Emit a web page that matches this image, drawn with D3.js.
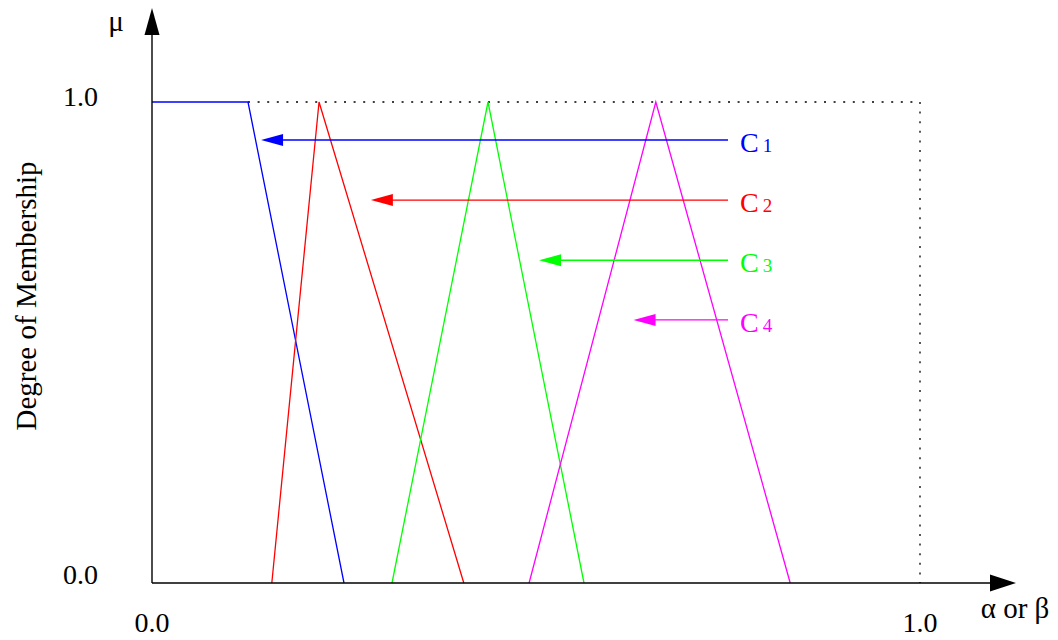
<!DOCTYPE html>
<html>
<head>
<meta charset="utf-8">
<script src="https://cdn.jsdelivr.net/npm/d3@7"></script>
<style>
  html, body { margin: 0; padding: 0; background: #fff; }
  svg { display: block; font-family: "Liberation Serif", "Times New Roman", serif; }
</style>
</head>
<body>
<svg id="chart" width="1058" height="640"></svg>
<script>
// Membership functions of the four fuzzy classes (x in [0,1], mu in [0,1])
const c1Points = [[0, 1], [0.125, 1], [0.25, 0]];
const c2Points = [[0.156, 0], [0.2175, 1], [0.406, 0]];
const c3Points = [[0.3125, 0], [0.4375, 1], [0.5625, 0]];
const c4Points = [[0.491, 0], [0.656, 1], [0.831, 0]];

const classNames = ["C", "C", "C", "C"];
const classIndex = ["1", "2", "3", "4"];
const classColors = ["#0000ff", "#ff0000", "#00ff00", "#ff00ff"];

// Label arrows: level (mu) and the x where each arrow points
const arrowLevels = [0.921, 0.796, 0.671, 0.547];
const arrowTargets = [0.142, 0.285, 0.504, 0.627];
const arrowStart = 0.75;

const xTickLabels = ["0.0", "1.0"];
const yTickLabels = ["0.0", "1.0"];

const svg = d3.select("#chart");
const x = d3.scaleLinear().domain([0, 1]).range([152, 920]);
const y = d3.scaleLinear().domain([0, 1]).range([583, 102]);

// Dotted frame at mu = 1 and x = 1
svg.append("path")
  .attr("d", d3.line()([[x(0.125), y(1)], [x(1), y(1)], [x(1), y(0)]]))
  .attr("fill", "none").attr("stroke", "#000").attr("stroke-width", 1.3)
  .attr("stroke-dasharray", "2,7.6");

// Membership curves
const line = d3.line().x(d => x(d[0])).y(d => y(d[1]));
[c1Points, c2Points, c3Points, c4Points].forEach((pts, i) => {
  svg.append("path").attr("d", line(pts))
    .attr("fill", "none").attr("stroke", classColors[i]).attr("stroke-width", 1.3);
});

// Axes
svg.append("line").attr("x1", x(0)).attr("y1", y(0)).attr("x2", x(0)).attr("y2", 30)
  .attr("stroke", "#000").attr("stroke-width", 1.4);
svg.append("line").attr("x1", x(0)).attr("y1", y(0)).attr("x2", 995).attr("y2", y(0))
  .attr("stroke", "#000").attr("stroke-width", 1.6);
svg.append("path").attr("d", `M${x(0)},8 L${x(0) - 7.5},35 L${x(0) + 7.5},35 Z`).attr("fill", "#000");
svg.append("path").attr("d", `M1016,${y(0)} L990,${y(0) - 8.5} L990,${y(0) + 8.5} Z`).attr("fill", "#000");

// Class label arrows
arrowLevels.forEach((lv, i) => {
  const yy = y(lv);
  const tx = x(arrowTargets[i]);
  svg.append("line").attr("x1", x(arrowStart)).attr("y1", yy).attr("x2", tx + 18).attr("y2", yy)
    .attr("stroke", classColors[i]).attr("stroke-width", 1.3);
  svg.append("path").attr("d", `M${tx},${yy} L${tx + 22},${yy - 6} L${tx + 22},${yy + 6} Z`)
    .attr("fill", classColors[i]);
  const t = svg.append("text").attr("x", 740).attr("y", yy + 12)
    .attr("fill", classColors[i]).attr("font-size", 28);
  t.append("tspan").text(classNames[i]);
  t.append("tspan").attr("font-size", 19).attr("dx", 4).text(classIndex[i]);
});

// Tick labels
svg.append("text").attr("x", 98).attr("y", 106).attr("text-anchor", "end").attr("font-size", 28).text(yTickLabels[1]);
svg.append("text").attr("x", 98).attr("y", 584).attr("text-anchor", "end").attr("font-size", 28).text(yTickLabels[0]);
svg.append("text").attr("x", x(0)).attr("y", 632).attr("text-anchor", "middle").attr("font-size", 28).text(xTickLabels[0]);
svg.append("text").attr("x", x(1)).attr("y", 632).attr("text-anchor", "middle").attr("font-size", 28).text(xTickLabels[1]);

// Axis titles
svg.append("text").attr("x", 116).attr("y", 31).attr("text-anchor", "middle").attr("font-size", 29).text("μ");
svg.append("text").attr("x", 1015).attr("y", 618).attr("text-anchor", "middle").attr("font-size", 29).text("α or β");
svg.append("text").attr("transform", "translate(36,296) rotate(-90)")
  .attr("text-anchor", "middle").attr("font-size", 29).text("Degree of Membership");
</script>
</body>
</html>
